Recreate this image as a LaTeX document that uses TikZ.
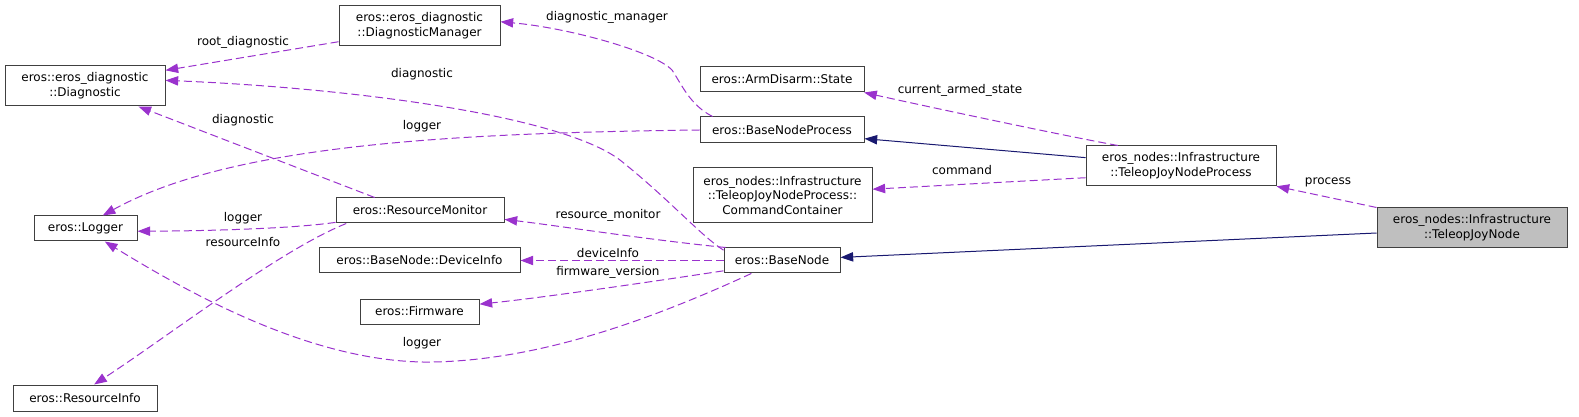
\documentclass[tikz,border=0pt]{standalone}
\usepackage{fontspec}
\setmainfont{DejaVu Sans}
\usetikzlibrary{arrows.meta}
\definecolor{clsborder}{RGB}{64,64,64}
\definecolor{clsfill}{RGB}{191,191,191}
\definecolor{usecol}{RGB}{154,50,205}
\definecolor{inhcol}{RGB}{25,25,112}
\tikzset{
    cls/.style={rectangle, draw=clsborder, fill=white, line width=0.75pt, inner sep=0pt, align=center, font=\fontsize{9}{11}\selectfont},
    clshl/.style={cls, fill=clsfill},
    lbl/.style={font=\fontsize{9}{11}\selectfont, inner sep=0pt},
    usage/.style={-{Triangle[length=9.5pt,width=7pt]}, line width=0.75pt, color=usecol, dash pattern=on 6pt off 3pt},
    inherit/.style={-{Triangle[length=9.5pt,width=7pt]}, line width=0.75pt, color=inhcol}
}
\begin{document}
\begin{tikzpicture}[x=0.75pt, y=-0.75pt]
            \useasboundingbox (0,0) rectangle (1579,417);
            \node[cls, minimum width=120pt, minimum height=30pt] (diag) at (85,86) {eros::eros\_diagnostic\\::Diagnostic};
            \node[cls, minimum width=120.75pt, minimum height=30pt] (dm) at (419.5,26) {eros::eros\_diagnostic\\::DiagnosticManager};
            \node[cls, minimum width=126pt, minimum height=18.75pt] (rm) at (420,210.5) {eros::ResourceMonitor};
            \node[cls, minimum width=77.25pt, minimum height=18.75pt] (lg) at (85.5,228.5) {eros::Logger};
            \node[cls, minimum width=108pt, minimum height=19.5pt] (ri) at (85,398) {eros::ResourceInfo};
            \node[cls, minimum width=150.75pt, minimum height=18.75pt] (di) at (419.5,260.5) {eros::BaseNode::DeviceInfo};
            \node[cls, minimum width=89.25pt, minimum height=18.75pt] (fw) at (419.5,311.5) {eros::Firmware};
            \node[cls, minimum width=87pt, minimum height=18.75pt] (bn) at (782,260.5) {eros::BaseNode};
            \node[cls, minimum width=123pt, minimum height=18.75pt] (st) at (782,79.5) {eros::ArmDisarm::State};
            \node[cls, minimum width=123pt, minimum height=19.5pt] (bnp) at (782,130) {eros::BaseNodeProcess};
            \node[cls, minimum width=134.25pt, minimum height=41.25pt] (cc) at (782.5,195.5) {eros\_nodes::Infrastructure\\::TeleopJoyNodeProcess::\\CommandContainer};
            \node[cls, minimum width=142.5pt, minimum height=30pt] (tjp) at (1181,166) {eros\_nodes::Infrastructure\\::TeleopJoyNodeProcess};
            \node[clshl, minimum width=142.5pt, minimum height=30pt] (tjn) at (1472,228) {eros\_nodes::Infrastructure\\::TeleopJoyNode};
            \draw[usage] (dm.191) -- (diag.11);
            \node[lbl] (l1) at (243,42) {root\_diagnostic};
            \draw[usage] (bnp.169) .. controls (690,105) and (682,85) .. (672,70) .. controls (655,52) and (570,28) .. (dm.3);
            \node[lbl] (l2) at (607,17) {diagnostic\_manager};
            \draw[usage] (bn.170) .. controls (700,235) and (670,200) .. (620,160) .. controls (560,115) and (350,88) .. (diag.4);
            \node[lbl] (l3) at (422,74) {diagnostic};
            \draw[usage] (rm.164) -- (diag.339);
            \node[lbl] (l4) at (243,120) {diagnostic};
            \draw[usage] (bnp.180) .. controls (450,133) and (230,145) .. (lg.37);
            \node[lbl] (l5) at (422,126) {logger};
            \draw[usage] (rm.188) .. controls (290,229) and (200,231) .. (lg.357);
            \node[lbl] (l6) at (243,218) {logger};
            \draw[usage] (rm.190) .. controls (280,250) and (170,335) .. (ri.56);
            \node[lbl] (l7) at (243,242) {resourceInfo};
            \draw[usage] (bn.167) .. controls (650,240) and (560,226) .. (rm.354);
            \node[lbl] (l8) at (608,215) {resource\_monitor};
            \draw[usage] (bn.west) -- (di.east);
            \node[lbl] (l9) at (608,253) {deviceInfo};
            \draw[usage] (bn.190) .. controls (650,282) and (540,298) .. (fw.7);
            \node[lbl] (l10) at (608,272) {firmware\_version};
            \draw[usage] (bn.203) .. controls (650,320) and (540,360) .. (433,362) .. controls (320,364) and (200,300) .. (lg.326);
            \node[lbl] (l11) at (422,343) {logger};
            \draw[usage] (tjp.162) .. controls (1060,135) and (920,105) .. (st.351);
            \node[lbl] (l12) at (960,90) {current\_armed\_state};
            \draw[usage] (tjp.187) -- (cc.4);
            \node[lbl] (l13) at (962,170) {command};
            \draw[inherit] (tjp.175) -- (bnp.354);
            \draw[usage] (tjn.north west) -- (tjp.348);
            \node[lbl] (l14) at (1328,182) {process};
            \draw[inherit] (tjn.183) -- (bn.3);
        \end{tikzpicture}
\end{document}
